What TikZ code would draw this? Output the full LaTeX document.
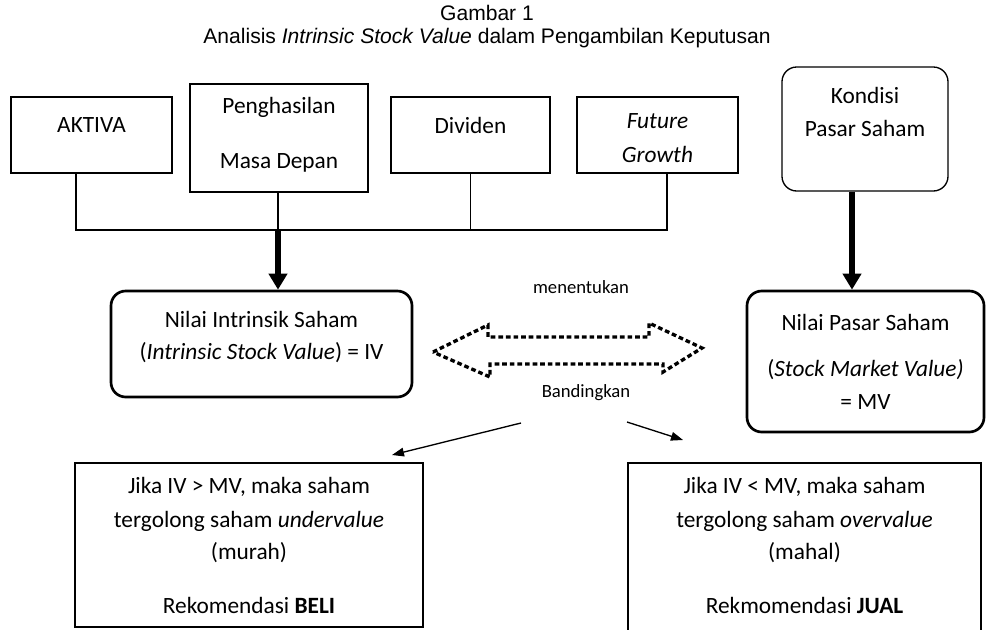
\documentclass[tikz,border=0pt]{standalone}
\usepackage{fontspec}
\setmainfont{Carlito}
\newfontfamily\titlefont{Liberation Sans}
\usetikzlibrary{arrows.meta}
\tikzset{
  px/.style={x=0.75pt,y=-0.75pt},
  thickbox/.style={draw,line width=2pt,inner sep=0pt},
  thinbox/.style={draw,line width=1.1pt,inner sep=0pt},
  roundbox/.style={draw,line width=2pt,rounded corners=11pt,inner sep=0pt},
  softbox/.style={draw,line width=1pt,rounded corners=11pt,inner sep=0pt},
  txt/.style={inner sep=0pt,font=\fontsize{17.5}{21}\selectfont},
  smalltxt/.style={inner sep=0pt,font=\fontsize{14}{17}\selectfont},
  titletxt/.style={inner sep=0pt,font=\titlefont\fontsize{15.8}{19}\selectfont},
  bus/.style={line width=0.8pt},
  bigarrow/.style={line width=3.8pt,-{Triangle[width=13.5pt,length=12pt]}},
  thinarrow/.style={line width=1pt,-{Triangle[width=6.5pt,length=9pt]}},
  dotshape/.style={line width=2.5pt,dash pattern=on 3.5pt off 2.2pt}
}
\begin{document}
\begin{tikzpicture}[px]
\useasboundingbox (0,0) rectangle (986,629);
% title
\node[titletxt] (t1) at (487,13) {Gambar 1};
\node[titletxt] (t2) at (487,38) {Analisis \textit{Intrinsic Stock Value} dalam Pengambilan Keputusan};
% top boxes
\node[thickbox,minimum width=120.75pt,minimum height=57pt] (aktiva) at (91.5,135) {};
\node[txt] (aktivaT) at (91.5,125) {AKTIVA};
\node[thickbox,minimum width=133.5pt,minimum height=81pt] (peng) at (279,138) {};
\node[txt] (pengT1) at (279,107) {Penghasilan};
\node[txt] (pengT2) at (279,163) {Masa Depan};
\node[thickbox,minimum width=119.25pt,minimum height=57pt] (divid) at (470.5,135) {};
\node[txt] (dividT) at (470.5,125) {Dividen};
\node[thickbox,minimum width=120.75pt,minimum height=57pt] (future) at (657.5,135) {};
\node[txt] (futureT1) at (657.5,121) {\textit{Future}};
\node[txt] (futureT2) at (657.5,154) {\textit{Growth}};
\node[softbox,minimum width=124.5pt,minimum height=93pt] (kondisi) at (865,129) {};
\node[txt] (kondisiT1) at (865,95) {Kondisi};
\node[txt] (kondisiT2) at (865,128) {Pasar Saham};
% middle boxes
\node[roundbox,minimum width=225.75pt,minimum height=79.5pt] (iv) at (261.5,344) {};
\node[txt] (ivT1) at (261.5,319) {Nilai Intrinsik Saham};
\node[txt] (ivT2) at (261.5,353) {(\textit{Intrinsic Stock Value}) = IV};
\node[roundbox,minimum width=177.75pt,minimum height=105.75pt] (mv) at (865.5,361.5) {};
\node[txt] (mvT1) at (865.5,322) {Nilai Pasar Saham};
\node[txt] (mvT2) at (865.5,370) {(\textit{Stock Market Value)}};
\node[txt] (mvT3) at (865.5,402) {= MV};
% bottom boxes
\node[thinbox,minimum width=261pt,minimum height=123pt] (buy) at (249,545) {};
\node[txt] (buyT1) at (249,487) {Jika IV > MV, maka saham};
\node[txt] (buyT2) at (249,521) {tergolong saham \textit{undervalue}};
\node[txt] (buyT3) at (249,553) {(murah)};
\node[txt] (buyT4) at (249,605) {Rekomendasi \textbf{BELI}};
\node[thinbox,minimum width=264.75pt,minimum height=135pt] (sell) at (804.5,553) {};
\node[txt] (sellT1) at (804.5,487) {Jika IV < MV, maka saham};
\node[txt] (sellT2) at (804.5,521) {tergolong saham \textit{overvalue}};
\node[txt] (sellT3) at (804.5,553) {(mahal)};
\node[txt] (sellT4) at (804.5,605) {Rekmomendasi \textbf{JUAL}};
% labels
\node[smalltxt] (menentukan) at (581,287) {menentukan};
\node[smalltxt] (bandingkan) at (586,393) {Bandingkan};
% bus connectors
\coordinate (busL) at (76,230);
\coordinate (busR) at (667,230);
\coordinate (junc) at (278,230);
\draw[bus] (busL |- aktiva.south) -- (busL) -- (busR) -- (busR |- future.south);
\draw[bus] (junc |- peng.south) -- (junc);
\draw[bus] (divid.south) -- (divid.south |- busL);
\draw[bigarrow] (junc) -- (junc |- iv.north);
\coordinate (kd) at (852,191);
\draw[bigarrow] (kd |- kondisi.south) -- (kd |- mv.north);
% dotted double arrow
\draw[dotshape] (433,352) -- (488,325) -- (488,337) -- (649,337) -- (649,323) -- (702,348) -- (663,372) -- (663,364) -- (490,364) -- (490,377) -- cycle;
% outcome arrows
\coordinate (la) at (521,423);
\coordinate (ra) at (627,422);
\coordinate (lt) at (392,455);
\coordinate (rt) at (683,440);
\draw[thinarrow] (la) -- (lt);
\draw[thinarrow] (ra) -- (rt);
\end{tikzpicture}
\end{document}
